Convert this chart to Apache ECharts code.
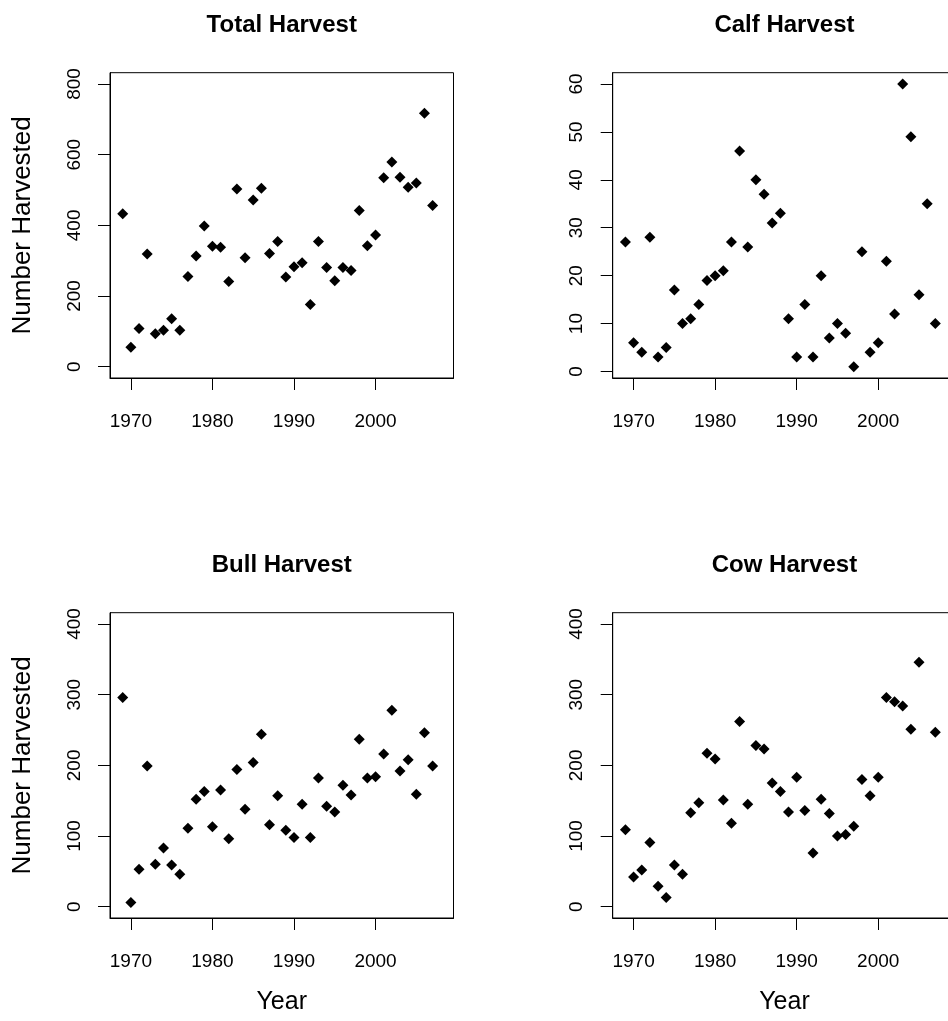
<!DOCTYPE html>
<html>
<head>
<meta charset="utf-8">
<script src="https://cdn.jsdelivr.net/npm/echarts@6/dist/echarts.min.js"></script>
<style>
  html, body { margin: 0; padding: 0; background: #fff; overflow: hidden; }
  #chart { width: 970px; height: 1021px; }
</style>
</head>
<body>
<div id="chart"></div>
<script>
// harvest per year
const years = [1969, 1970, 1971, 1972, 1973, 1974, 1975, 1976, 1977, 1978,
  1979, 1980, 1981, 1982, 1983, 1984, 1985, 1986, 1987, 1988,
  1989, 1990, 1991, 1992, 1993, 1994, 1995, 1996, 1997, 1998,
  1999, 2000, 2001, 2002, 2003, 2004, 2005, 2006, 2007];

const totalHarvest = [433, 55, 108, 319, 93, 103, 136, 103, 255, 313,
  398, 341, 338, 241, 503, 308, 472, 505, 320, 354,
  254, 283, 294, 176, 354, 281, 243, 281, 272, 442,
  342, 373, 535, 579, 536, 508, 520, 717, 456];

const calfHarvest = [27, 6, 4, 28, 3, 5, 17, 10, 11, 14,
  19, 20, 21, 27, 46, 26, 40, 37, 31, 33,
  11, 3, 14, 3, 20, 7, 10, 8, 1, 25,
  4, 6, 23, 12, 60, 49, 16, 35, 10];

const bullHarvest = [296, 6, 53, 199, 60, 83, 59, 46, 111, 152,
  163, 113, 165, 96, 194, 138, 204, 244, 116, 157,
  108, 98, 145, 98, 182, 142, 134, 172, 158, 237,
  182, 184, 216, 278, 192, 208, 159, 246, 199];

const cowHarvest = [109, 42, 52, 91, 29, 13, 59, 46, 133, 147,
  217, 209, 151, 118, 262, 145, 228, 223, 175, 163,
  134, 183, 136, 76, 152, 132, 100, 102, 114, 180,
  157, 183, 296, 290, 284, 251, 346, 436, 247];

const yearTicks = [1970, 1980, 1990, 2000];
const ticks800 = [0, 200, 400, 600, 800];
const ticks60 = [0, 10, 20, 30, 40, 50, 60];
const ticks400 = [0, 100, 200, 300, 400];

const FONT = 'Liberation Sans, Arial, sans-serif';
const BOX_W = 343.5, BOX_H = 305.3;

// panel layout (R par(mfrow=c(2,2)) look), right column runs past the window edge
const panels = [
  { title: 'Total Harvest', data: totalHarvest, left: 110, top: 72.7, min: -32, max: 832, ticks: ticks800 },
  { title: 'Calf Harvest', data: calfHarvest, left: 612.7, top: 72.7, min: -1.36, max: 62.36, ticks: ticks60 },
  { title: 'Bull Harvest', data: bullHarvest, left: 110, top: 612.7, min: -16, max: 416, ticks: ticks400 },
  { title: 'Cow Harvest', data: cowHarvest, left: 612.7, top: 612.7, min: -16, max: 416, ticks: ticks400 },
];

const chart = echarts.init(document.getElementById('chart'));

const grid = panels.map(p => ({
  left: p.left, top: p.top, width: BOX_W, height: BOX_H,
  show: true, borderColor: '#000', borderWidth: 1, backgroundColor: 'transparent',
}));

const xAxis = panels.map((p, i) => ({
  type: 'value', gridIndex: i, min: 1967.44, max: 2009.56,
  axisLine: { show: true, onZero: false, lineStyle: { color: '#000', width: 1 } },
  axisTick: { show: true, length: 12, customValues: yearTicks, lineStyle: { color: '#000', width: 1 } },
  axisLabel: {
    customValues: yearTicks, color: '#000', fontSize: 19, fontFamily: FONT, margin: 34,
    formatter: v => String(v),
  },
  splitLine: { show: false },
}));

const yAxis = panels.map((p, i) => ({
  type: 'value', gridIndex: i, min: p.min, max: p.max,
  axisLine: { show: true, onZero: false, lineStyle: { color: '#000', width: 1 } },
  axisTick: { show: true, length: 12, customValues: p.ticks, lineStyle: { color: '#000', width: 1 } },
  axisLabel: {
    customValues: p.ticks, color: '#000', fontSize: 19, fontFamily: FONT, rotate: 90, margin: 26,
    formatter: v => String(v),
  },
  splitLine: { show: false },
}));

const series = panels.map((p, i) => ({
  type: 'scatter', xAxisIndex: i, yAxisIndex: i,
  symbol: 'diamond', symbolSize: 11, clip: true,
  itemStyle: { color: '#000', opacity: 1 },
  data: years.map((y, k) => [y, p.data[k]]),
}));

function label(text, x, y, font, rotation) {
  return {
    type: 'text', x: x, y: y, rotation: rotation || 0,
    style: {
      text: text, font: font, fill: '#000',
      align: 'center', verticalAlign: 'middle',
      textAlign: 'center', textVerticalAlign: 'middle',
    },
  };
}

const graphic = [];
panels.forEach((p, i) => {
  const cx = p.left + BOX_W / 2;
  graphic.push(label(p.title, cx, p.top - 47, 'bold 24px ' + FONT));
  if (i % 2 === 0) {
    graphic.push(label('Number Harvested', 23, p.top + BOX_H / 2, '26px ' + FONT, Math.PI / 2));
  }
  if (i >= 2) {
    graphic.push(label('Year', cx, 1002, '25px ' + FONT));
  }
});

chart.setOption({
  backgroundColor: '#fff',
  animation: false,
  grid, xAxis, yAxis, series, graphic,
});
</script>
</body>
</html>
